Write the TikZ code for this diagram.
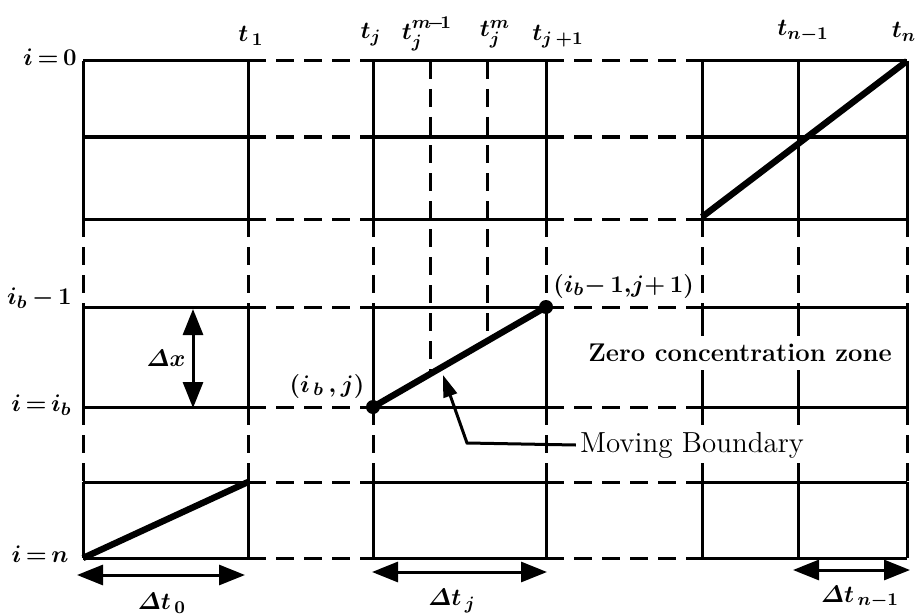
\documentclass[tikz,border=0pt]{standalone}
\usepackage{amsmath}
\usetikzlibrary{arrows.meta}
\tikzstyle{gridline} = [
    line width=1.5pt
]
\tikzstyle{gapline} = [
    line width=1.5pt,
    dash pattern=on 9pt off 5pt
]
\tikzstyle{boundary} = [line width=3.2pt]
\tikzstyle{dot} = [
    circle,
    fill=black,
    inner sep=0pt,
    minimum size=7pt
]
\tikzstyle{dimarrow} = [line width=1.5pt,{Triangle[length=13pt,width=10pt]}-{Triangle[length=13pt,width=10pt]}]
\tikzstyle{pointer} = [line width=1.5pt,-{Triangle[length=11pt,width=7pt]}]
\tikzstyle{mathlabel} = [
    font=\boldmath\fontsize{12.5}{15}\selectfont,
    inner sep=0pt
]
\tikzstyle{zonetext} = [
    font=\bfseries\fontsize{12.8}{14}\selectfont,
    fill=white,
    inner sep=4pt
]
\tikzstyle{plaintext} = [
    font=\fontsize{14.5}{16}\selectfont,
    fill=white,
    inner sep=2pt
]

\begin{document}
\begin{tikzpicture}[x=0.5pt, y=-0.5pt]
\useasboundingbox (0,0) rectangle (915,615);

% rows
\draw [gridline] (83,61) -- (248,61) (373,61) -- (546,61) (702,61) -- (907,61);
\draw [gridline] (83,137) -- (248,137) (373,137) -- (546,137) (702,137) -- (907,137);
\draw [gridline] (83,219) -- (248,219) (373,219) -- (546,219) (702,219) -- (907,219);
\draw [gridline] (83,307) -- (248,307) (373,307) -- (546,307) (702,307) -- (907,307);
\draw [gridline] (83,407) -- (248,407) (373,407) -- (546,407) (702,407) -- (907,407);
\draw [gridline] (83,482) -- (248,482) (373,482) -- (546,482) (702,482) -- (907,482);
\draw [gridline] (83,558) -- (248,558) (373,558) -- (546,558) (702,558) -- (907,558);
\draw [gapline] (248,61) -- (373,61) (546,61) -- (702,61);
\draw [gapline] (248,137) -- (373,137) (546,137) -- (702,137);
\draw [gapline] (248,219) -- (373,219) (546,219) -- (702,219);
\draw [gapline] (248,307) -- (373,307) (546,307) -- (702,307);
\draw [gapline] (248,407) -- (373,407) (546,407) -- (702,407);
\draw [gapline] (248,482) -- (373,482) (546,482) -- (702,482);
\draw [gapline] (248,558) -- (373,558) (546,558) -- (702,558);

% columns
\draw [gridline] (83,61) -- (83,219) (83,307) -- (83,407) (83,482) -- (83,558);
\draw [gridline] (248,61) -- (248,219) (248,307) -- (248,407) (248,482) -- (248,558);
\draw [gridline] (373,61) -- (373,219) (373,307) -- (373,407) (373,482) -- (373,558);
\draw [gridline] (546,61) -- (546,219) (546,307) -- (546,407) (546,482) -- (546,558);
\draw [gridline] (702,61) -- (702,219) (702,307) -- (702,407) (702,482) -- (702,558);
\draw [gridline] (798,61) -- (798,219) (798,307) -- (798,407) (798,482) -- (798,558);
\draw [gridline] (907,61) -- (907,219) (907,307) -- (907,407) (907,482) -- (907,558);
\draw [gapline] (83,219) -- (83,307) (83,407) -- (83,482);
\draw [gapline] (248,219) -- (248,307) (248,407) -- (248,482);
\draw [gapline] (373,219) -- (373,307) (373,407) -- (373,482);
\draw [gapline] (546,219) -- (546,307) (546,407) -- (546,482);
\draw [gapline] (702,219) -- (702,307) (702,407) -- (702,482);
\draw [gapline] (798,219) -- (798,307) (798,407) -- (798,482);
\draw [gapline] (907,219) -- (907,307) (907,407) -- (907,482);
\draw [gapline] (430,61) -- (430,374);
\draw [gapline] (487,61) -- (487,341);

% boundary
\node (pj) [dot] at (373,407) {};
\node (pj1) [dot] at (546,307) {};
\draw [boundary] (pj.center) -- (pj1.center);
\coordinate (first0) at (83,558);
\coordinate (first1) at (248,482);
\draw [boundary] (first0) -- (first1);
\coordinate (last0) at (702,217);
\coordinate (last1) at (907,61);
\draw [boundary] (last0) -- (last1);

% labels
\node (t1) [mathlabel] at (251,36) {$t_{\,1}$};
\node (tj) [mathlabel] at (371,35) {$t_j$};
\node (tjm1) [mathlabel] at (427,34) {$t_j^{m\!-\!1}$};
\node (tjm) [mathlabel] at (495,34) {$t_j^{m}$};
\node (tj1) [mathlabel] at (558,37) {$t_{j\,+1}$};
\node (tn1) [mathlabel] at (803,31) {$t_{n-1}$};
\node (tn) [mathlabel] at (904,32) {$t_n$};

\node (row0) [mathlabel, anchor=east] at (77,57) {$i\,{=}\,0$};
\node (rowb1) [mathlabel, anchor=east] at (72,298) {$i_b\,{-}\,1$};
\node (rowb) [mathlabel, anchor=east] at (72,405) {$i\,{=}\,i_b$};
\node (rown) [mathlabel, anchor=east] at (69,554) {$i\,{=}\,n$};

\node (ptj) [mathlabel] at (327,386) {$(i_{\,b}\,,j)$};
\node (ptj1) [mathlabel, anchor=west] at (553,286) {$(i_b{-}\,1,\!j{+}\,1)$};

\node (zone) [zonetext] at (740,353) {Zero concentration zone};
\node (moving) [plaintext] at (692,445) {Moving Boundary};
\coordinate (bend) at (467,443);
\coordinate (tip) at (443,375);
\draw [pointer] (moving.west) -- (bend) -- (tip);

% spacings
\coordinate (dxtop) at (193,309);
\coordinate (dxbot) at (193,408);
\draw [dimarrow] (dxtop) -- (dxbot);
\node (dx) [mathlabel] at (166,358) {$\varDelta x$};

\coordinate (dt0l) at (77,575);
\coordinate (dt0r) at (245,575);
\draw [dimarrow] (dt0l) -- (dt0r);
\node (dt0) [mathlabel] at (162,603) {$\varDelta t_{\,0}$};

\coordinate (dtjl) at (372,572);
\coordinate (dtjr) at (547,572);
\draw [dimarrow] (dtjl) -- (dtjr);
\node (dtj) [mathlabel] at (452,601) {$\varDelta t_{\,j}$};

\coordinate (dtnl) at (793,570);
\coordinate (dtnr) at (910,570);
\draw [dimarrow] (dtnl) -- (dtnr);
\node (dtn) [mathlabel] at (860,597) {$\varDelta t_{\,n-1}$};

\end{tikzpicture}
\end{document}
